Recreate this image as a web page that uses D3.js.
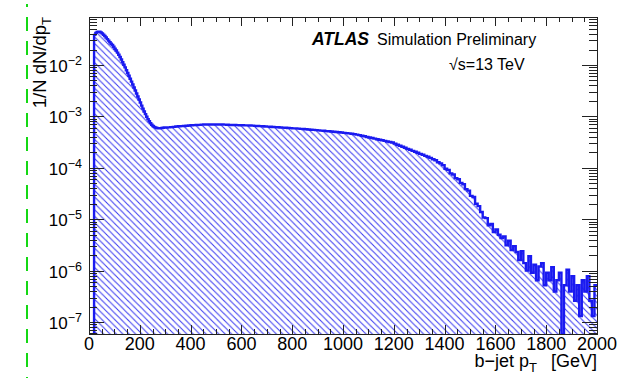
<!DOCTYPE html>
<html>
<head>
<meta charset="utf-8">
<script src="https://cdn.jsdelivr.net/npm/d3@7"></script>
<style>
  html, body { margin: 0; padding: 0; background: #fff; }
  svg { display: block; font-family: "Liberation Sans", Arial, Helvetica, sans-serif; }
</style>
</head>
<body>
<svg id="chart" width="617" height="378"></svg>
<script>
// b-jet transverse momentum spectrum, normalised (1/N dN/dpT)
// Low-pT part: 5 GeV bins from 0 to 300 GeV
const lowPtBinWidth = 5;
const lowPtStart = 0;
const lowPtDensity = [
  0, 0, 0, 0, 3.85e-2, 4.22e-2, 4.40e-2, 4.46e-2, 4.44e-2, 4.30e-2,
  4.10e-2, 3.88e-2, 3.67e-2, 3.42e-2, 3.19e-2, 2.98e-2, 2.78e-2, 2.60e-2, 2.45e-2, 2.26e-2,
  2.07e-2, 1.91e-2, 1.74e-2, 1.58e-2, 1.43e-2, 1.28e-2, 1.14e-2, 1.01e-2, 8.98e-3, 7.93e-3,
  6.99e-3, 6.17e-3, 5.41e-3, 4.75e-3, 4.17e-3, 3.65e-3, 3.19e-3, 2.79e-3, 2.44e-3, 2.13e-3,
  1.86e-3, 1.62e-3, 1.42e-3, 1.25e-3, 1.11e-3, 9.86e-4, 8.86e-4, 8.03e-4, 7.40e-4, 6.88e-4,
  6.53e-4, 6.27e-4, 6.08e-4, 5.95e-4, 5.89e-4, 5.89e-4, 5.92e-4, 5.97e-4, 6.02e-4, 6.08e-4
];
// High-pT part: 10 GeV bins from 300 to 2000 GeV
const highPtBinWidth = 10;
const highPtStart = 300;
const highPtDensity = [
  6.10e-4, 6.13e-4, 6.18e-4, 6.27e-4, 6.35e-4, 6.44e-4, 6.47e-4, 6.53e-4, 6.59e-4, 6.65e-4,
  6.71e-4, 6.76e-4, 6.82e-4, 6.85e-4, 6.91e-4, 6.94e-4, 6.94e-4, 6.98e-4, 6.98e-4, 6.98e-4,
  6.98e-4, 6.94e-4, 6.94e-4, 6.91e-4, 6.88e-4, 6.85e-4, 6.82e-4, 6.79e-4, 6.76e-4, 6.73e-4,
  6.71e-4, 6.68e-4, 6.68e-4, 6.65e-4, 6.62e-4, 6.56e-4, 6.53e-4, 6.47e-4, 6.44e-4, 6.38e-4,
  6.32e-4, 6.29e-4, 6.24e-4, 6.18e-4, 6.15e-4, 6.10e-4, 6.05e-4, 6.02e-4, 5.97e-4, 5.92e-4,
  5.86e-4, 5.84e-4, 5.78e-4, 5.73e-4, 5.68e-4, 5.63e-4, 5.56e-4, 5.51e-4, 5.46e-4, 5.41e-4,
  5.34e-4, 5.29e-4, 5.25e-4, 5.18e-4, 5.13e-4, 5.09e-4, 5.02e-4, 4.98e-4, 4.91e-4, 4.85e-4,
  4.78e-4, 4.74e-4, 4.67e-4, 4.61e-4, 4.52e-4, 4.42e-4, 4.32e-4, 4.20e-4, 4.10e-4, 3.99e-4,
  3.89e-4, 3.80e-4, 3.70e-4, 3.60e-4, 3.51e-4, 3.43e-4, 3.34e-4, 3.26e-4, 3.18e-4, 3.10e-4,
  2.95e-4, 2.81e-4, 2.69e-4, 2.57e-4, 2.45e-4, 2.34e-4, 2.24e-4, 2.14e-4, 2.05e-4, 1.96e-4,
  1.87e-4, 1.79e-4, 1.71e-4, 1.64e-4, 1.56e-4, 1.47e-4, 1.40e-4, 1.28e-4, 1.22e-4, 1.13e-4,
  9.6e-5, 9.1e-5, 7.8e-5, 7.4e-5, 6.3e-5, 6.0e-5, 5.1e-5, 4.8e-5, 3.85e-5, 3.6e-5,
  2.85e-5, 2.7e-5, 2.0e-5, 1.8e-5, 1.38e-5, 1.08e-5, 1.05e-5, 7.6e-6, 8.1e-6, 5.6e-6,
  6.3e-6, 5.0e-6, 4.3e-6, 4.6e-6, 3.1e-6, 3.8e-6, 2.5e-6, 3.0e-6, 2.3e-6, 1.6e-6,
  2.4e-6, 1.4e-6, 1.0e-6, 1.9e-6, 9.1e-7, 1.3e-6, 6.5e-7, 1.2e-6, 1.4e-6, 5.2e-7,
  9.1e-7, 6.5e-7, 1.17e-6, 3.9e-7, 6.5e-7, 9.1e-7, 0, 5.2e-7, 1.04e-6, 3.9e-7,
  7.8e-7, 2.6e-7, 5.2e-7, 1.3e-7, 6.5e-7, 3.9e-7, 7.8e-7, 2.6e-7, 1.3e-7, 5.2e-7
];

const xDomain = [0, 2000];
const yDomain = [5.85e-8, 0.0859];
const xTickValues = [0, 200, 400, 600, 800, 1000, 1200, 1400, 1600, 1800, 2000];
const xMinorStep = 50;
const yTickExponents = [-7, -6, -5, -4, -3, -2];

const svg = d3.select("#chart");
const frame = { left: 89, right: 597, top: 17, bottom: 334 };

const x = d3.scaleLinear().domain(xDomain).range([frame.left, frame.right]);
const y = d3.scaleLog().domain(yDomain).range([frame.bottom, frame.top]);

const lineBlue = "#1a1af0";
const axisColor = "#222";

// bins as [low edge, high edge, value]
const bins = [];
lowPtDensity.forEach((v, i) => bins.push([lowPtStart + i * lowPtBinWidth, lowPtStart + (i + 1) * lowPtBinWidth, v]));
highPtDensity.forEach((v, i) => bins.push([highPtStart + i * highPtBinWidth, highPtStart + (i + 1) * highPtBinWidth, v]));

// dashed vertical guide at the far left
svg.append("line")
  .attr("x1", 27).attr("x2", 27)
  .attr("y1", 4).attr("y2", 378)
  .attr("stroke", "#14d814")
  .attr("stroke-width", 2)
  .attr("stroke-dasharray", "14,10")
  .attr("stroke-dashoffset", 11);

// diagonal hatch fill
const hatchStep = 6.4;
const defs = svg.append("defs");
defs.append("clipPath").attr("id", "plotClip")
  .append("rect")
  .attr("x", frame.left).attr("y", frame.top)
  .attr("width", frame.right - frame.left).attr("height", frame.bottom - frame.top);
const pat = defs.append("pattern")
  .attr("id", "hatch")
  .attr("patternUnits", "userSpaceOnUse")
  .attr("width", hatchStep).attr("height", hatchStep);
pat.append("path")
  .attr("d", `M0,0L${hatchStep},${hatchStep}M${-hatchStep},0L0,${hatchStep}M${hatchStep},0L${2 * hatchStep},${hatchStep}M0,${-hatchStep}L${hatchStep},0M0,${hatchStep}L${hatchStep},${2 * hatchStep}`)
  .attr("stroke", "#3c3cf0")
  .attr("stroke-width", 1.05);

// step outline of the histogram
const yOf = v => (v > 0 ? Math.min(y(v), frame.bottom) : frame.bottom);
const firstBin = bins.findIndex(b => b[2] > 0);
const pts = [[x(bins[firstBin][0]), frame.bottom]];
for (let i = firstBin; i < bins.length; i++) {
  const [lo, hi, v] = bins[i];
  const yy = yOf(v);
  pts.push([x(lo), yy], [x(hi), yy]);
}
const lastX = x(bins[bins.length - 1][1]);

const plot = svg.append("g").attr("clip-path", "url(#plotClip)");

plot.append("path")
  .attr("d", d3.line()(pts.concat([[lastX, frame.bottom]])) + "Z")
  .attr("fill", "url(#hatch)")
  .attr("stroke", "none");

plot.append("path")
  .attr("d", d3.line()(pts))
  .attr("fill", "none")
  .attr("stroke", lineBlue)
  .attr("stroke-width", 2.4)
  .attr("stroke-linejoin", "miter");

// frame and ticks on all four sides
const axes = svg.append("g").attr("stroke", axisColor).attr("stroke-width", 1).attr("shape-rendering", "crispEdges");
axes.append("rect")
  .attr("x", frame.left).attr("y", frame.top)
  .attr("width", frame.right - frame.left).attr("height", frame.bottom - frame.top)
  .attr("fill", "none");

const xMinor = d3.range(xDomain[0], xDomain[1] + 1, xMinorStep).filter(v => !xTickValues.includes(v));
xTickValues.forEach(v => {
  const px = Math.round(x(v)) + 0.5;
  axes.append("line").attr("x1", px).attr("x2", px).attr("y1", frame.bottom).attr("y2", frame.bottom - 9);
  axes.append("line").attr("x1", px).attr("x2", px).attr("y1", frame.top).attr("y2", frame.top + 9);
});
xMinor.forEach(v => {
  const px = Math.round(x(v)) + 0.5;
  axes.append("line").attr("x1", px).attr("x2", px).attr("y1", frame.bottom).attr("y2", frame.bottom - 5);
  axes.append("line").attr("x1", px).attr("x2", px).attr("y1", frame.top).attr("y2", frame.top + 5);
});

const yMajor = [];
const yMinor = [];
for (let e = -8; e <= -1; e++) {
  for (let m = 1; m <= 9; m++) {
    const v = m * Math.pow(10, e);
    if (v < yDomain[0] || v > yDomain[1]) continue;
    (m === 1 ? yMajor : yMinor).push(v);
  }
}
yMajor.forEach(v => {
  const py = Math.round(y(v)) + 0.5;
  axes.append("line").attr("x1", frame.left).attr("x2", frame.left + 15).attr("y1", py).attr("y2", py);
  axes.append("line").attr("x1", frame.right).attr("x2", frame.right - 15).attr("y1", py).attr("y2", py);
});
yMinor.forEach(v => {
  const py = Math.round(y(v)) + 0.5;
  axes.append("line").attr("x1", frame.left).attr("x2", frame.left + 8).attr("y1", py).attr("y2", py);
  axes.append("line").attr("x1", frame.right).attr("x2", frame.right - 8).attr("y1", py).attr("y2", py);
});

// tick labels
const labels = svg.append("g").attr("fill", "#000");
xTickValues.forEach(v => {
  labels.append("text")
    .attr("x", x(v)).attr("y", 350)
    .attr("text-anchor", "middle")
    .attr("font-size", 18)
    .text(v);
});
yTickExponents.forEach(e => {
  const t = labels.append("text")
    .attr("x", 82).attr("y", y(Math.pow(10, e)) + 7)
    .attr("text-anchor", "end")
    .attr("font-size", 17);
  t.append("tspan").text("10");
  t.append("tspan").attr("dy", -7).attr("font-size", 12.5).text("\u2212" + Math.abs(e));
});

// axis titles
const xt = labels.append("text")
  .attr("x", frame.right).attr("y", 367)
  .attr("text-anchor", "end")
  .attr("font-size", 18);
xt.append("tspan").text("b\u2212jet p");
xt.append("tspan").attr("dy", 5).attr("font-size", 13).text("T");
xt.append("tspan").attr("dy", -5).attr("dx", 14).text("[GeV]");

const yt = labels.append("text")
  .attr("transform", `translate(46,${frame.top}) rotate(-90)`)
  .attr("text-anchor", "end")
  .attr("font-size", 18.5);
yt.append("tspan").text("1/N dN/dp");
yt.append("tspan").attr("dy", 5).attr("font-size", 13).text("T");

// experiment label
labels.append("text")
  .attr("x", 312).attr("y", 45)
  .attr("font-size", 17.5).attr("font-weight", "bold").attr("font-style", "italic")
  .text("ATLAS");
labels.append("text")
  .attr("x", 377).attr("y", 45)
  .attr("font-size", 16)
  .text("Simulation Preliminary");
labels.append("text")
  .attr("x", 449).attr("y", 70)
  .attr("font-size", 16)
  .text("\u221As=13 TeV");
</script>
</body>
</html>
